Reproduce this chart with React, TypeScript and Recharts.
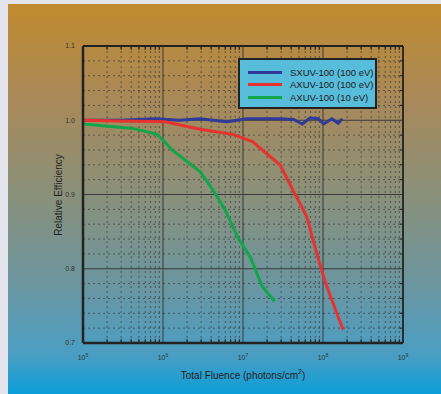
import {
  LineChart,
  Line,
  XAxis,
  YAxis,
  ReferenceLine,
} from "recharts"

// fluence in photons/cm^2, relative efficiency
const sxuvFluence = [1e5, 2.9e5, 8.3e5, 1.6e6, 2.9e6, 6.3e6, 1.12e7, 2.9e7, 4.3e7, 5.5e7, 6.9e7, 8.7e7, 1.02e8, 1.29e8, 1.55e8, 1.74e8]
const sxuvEfficiency = [1.0, 1.0, 1.002, 1.0, 1.002, 0.998, 1.002, 1.002, 1.001, 0.995, 1.003, 1.002, 0.995, 1.002, 0.996, 1.002]

const axuv100Fluence = [1e5, 2.9e5, 1.07e6, 2.9e6, 7.5e6, 1.33e7, 1.74e7, 2.9e7, 4.2e7, 6.3e7, 7.5e7, 9.1e7, 1.06e8, 1.29e8, 1.55e8, 1.78e8]
const axuv100Efficiency = [1.0, 0.999, 0.998, 0.988, 0.981, 0.971, 0.96, 0.94, 0.906, 0.87, 0.839, 0.807, 0.783, 0.758, 0.735, 0.718]

const axuv10Fluence = [1e5, 4.2e5, 8.4e5, 1e6, 1.3e6, 2.9e6, 4.1e6, 6e6, 8.7e6, 1.23e7, 1.74e7, 2.5e7]
const axuv10Efficiency = [0.995, 0.989, 0.981, 0.973, 0.96, 0.931, 0.908, 0.879, 0.841, 0.816, 0.776, 0.756]

const seriesNames = ["SXUV-100 (100 eV)", "AXUV-100 (100 eV)", "AXUV-100 (10 eV)"]
const seriesColors = ["#2f3a99", "#e8322f", "#12a64b"]

const fluenceTicks = [1e5, 1e6, 1e7, 1e8, 1e9]
const efficiencyTicks = [0.7, 0.8, 0.9, 1.0, 1.1]

const decades = [1e5, 1e6, 1e7, 1e8]
const minorMultipliers = [2, 3, 4, 5, 6, 7, 8, 9]
const minorFluence = decades.flatMap(d => minorMultipliers.map(m => m * d))
const minorEfficiency = [0.72, 0.74, 0.76, 0.78, 0.82, 0.84, 0.86, 0.88, 0.92, 0.94, 0.96, 0.98, 1.02, 1.04, 1.06, 1.08]
const majorFluence = [1e6, 1e7, 1e8]
const majorEfficiency = [0.8, 0.9, 1.0]

const toPoints = (xs: number[], ys: number[]) => xs.map((x, i) => ({ fluence: x, eff: ys[i] }))
const sxuvData = toPoints(sxuvFluence, sxuvEfficiency)
const axuv100Data = toPoints(axuv100Fluence, axuv100Efficiency)
const axuv10Data = toPoints(axuv10Fluence, axuv10Efficiency)

const FONT = "'Liberation Sans', Arial, sans-serif"

function FluenceTick({ x, y, payload }: any) {
  const exp = Math.round(Math.log10(payload.value))
  return (
    <text x={x} y={y + 9} textAnchor="middle" fontSize={7} fill="#333" fontFamily={FONT}>
      10<tspan dy={-3} fontSize={5}>{exp}</tspan>
    </text>
  )
}

function LegendBox() {
  return (
    <div
      style={{
        position: "absolute",
        left: 230,
        top: 54,
        width: 139,
        height: 51,
        background: "#58bddb",
        border: "2px solid #222",
        fontFamily: FONT,
        fontSize: 9.5,
        color: "#1a1a1a",
        padding: "6px 0 0 8px",
        boxSizing: "border-box",
        whiteSpace: "nowrap",
      }}
    >
      {seriesNames.map((name, i) => (
        <div key={name} style={{ display: "flex", alignItems: "center", height: 12.5 }}>
          <span
            style={{
              display: "inline-block",
              flexShrink: 0,
              width: 34,
              height: 3,
              background: seriesColors[i],
              marginRight: 8,
            }}
          />
          <span>{name}</span>
        </div>
      ))}
    </div>
  )
}

export default function App() {
  return (
    <div style={{ position: "fixed", inset: 0, background: "#e4e4ec" }}>
      <div
        style={{
          position: "absolute",
          left: 8,
          top: 4,
          right: 0,
          bottom: 0,
          background:
            "linear-gradient(to bottom, #c08a2e 0%, #a8895a 25%, #8b9079 48%, #6b96a0 72%, #4a9ec4 90%, #0b9ed8 100%)",
        }}
      >
        <LineChart
          width={433}
          height={390}
          margin={{ top: 42, right: 38, left: 0, bottom: 0 }}
          style={{ fontFamily: FONT }}
        >
          <XAxis
            dataKey="fluence"
            type="number"
            scale="log"
            domain={[1e5, 1e9]}
            ticks={fluenceTicks}
            interval={0}
            allowDataOverflow
            height={51}
            stroke="#222"
            strokeWidth={2.5}
            tickLine={false}
            tick={<FluenceTick />}
            label={{
              content: () => (
                <text x={235} y={375} textAnchor="middle" fontSize={10} fill="#222" fontFamily={FONT}>
                  Total Fluence (photons/cm<tspan dy={-5} fontSize={7}>2</tspan><tspan dy={5}>)</tspan>
                </text>
              ),
            }}
          />
          <YAxis
            type="number"
            domain={[0.7, 1.1]}
            ticks={efficiencyTicks}
            interval={0}
            width={75}
            stroke="#222"
            strokeWidth={2.5}
            tickLine={false}
            tickMargin={2}
            tick={{ fontSize: 7, fill: "#333", fontFamily: FONT }}
            tickFormatter={(v: number) => v.toFixed(1)}
            label={{
              content: () => (
                <text
                  x={50}
                  y={191}
                  transform="rotate(-90, 50, 191)"
                  textAnchor="middle"
                  dominantBaseline="central"
                  fontSize={10}
                  fill="#222"
                  fontFamily={FONT}
                >
                  Relative Efficiency
                </text>
              ),
            }}
          />

          {minorFluence.map(v => (
            <ReferenceLine key={"mx" + v} x={v} stroke="#3a3a3a" strokeWidth={0.7} strokeDasharray="2 3" />
          ))}
          {minorEfficiency.map(v => (
            <ReferenceLine key={"my" + v} y={v} stroke="#3a3a3a" strokeWidth={0.7} strokeDasharray="2 3" />
          ))}
          {majorFluence.map(v => (
            <ReferenceLine key={"Mx" + v} x={v} stroke="#3a3a3a" strokeWidth={1} />
          ))}
          {majorEfficiency.map(v => (
            <ReferenceLine key={"My" + v} y={v} stroke="#3a3a3a" strokeWidth={1} />
          ))}
          {minorFluence.map(v => (
            <ReferenceLine
              key={"tb" + v}
              segment={[{ x: v, y: 0.7 }, { x: v, y: 0.705 }]}
              stroke="#222"
              strokeWidth={1.2}
            />
          ))}
          {minorFluence.map(v => (
            <ReferenceLine
              key={"tt" + v}
              segment={[{ x: v, y: 1.1 }, { x: v, y: 1.095 }]}
              stroke="#222"
              strokeWidth={1.2}
            />
          ))}
          {minorEfficiency.map(v => (
            <ReferenceLine
              key={"tr" + v}
              segment={[{ x: 9.2e8, y: v }, { x: 1e9, y: v }]}
              stroke="#222"
              strokeWidth={1.2}
            />
          ))}
          <ReferenceLine y={1.1} stroke="#222" strokeWidth={1.8} />
          <ReferenceLine x={1e9} stroke="#222" strokeWidth={1.8} />

          <Line
            data={sxuvData}
            dataKey="eff"
            name={seriesNames[0]}
            type="linear"
            stroke={seriesColors[0]}
            strokeWidth={3}
            dot={false}
            isAnimationActive={false}
          />
          <Line
            data={axuv10Data}
            dataKey="eff"
            name={seriesNames[2]}
            type="linear"
            stroke={seriesColors[2]}
            strokeWidth={3}
            dot={false}
            isAnimationActive={false}
          />
          <Line
            data={axuv100Data}
            dataKey="eff"
            name={seriesNames[1]}
            type="linear"
            stroke={seriesColors[1]}
            strokeWidth={3}
            dot={false}
            isAnimationActive={false}
          />
        </LineChart>
        <LegendBox />
      </div>
    </div>
  )
}
